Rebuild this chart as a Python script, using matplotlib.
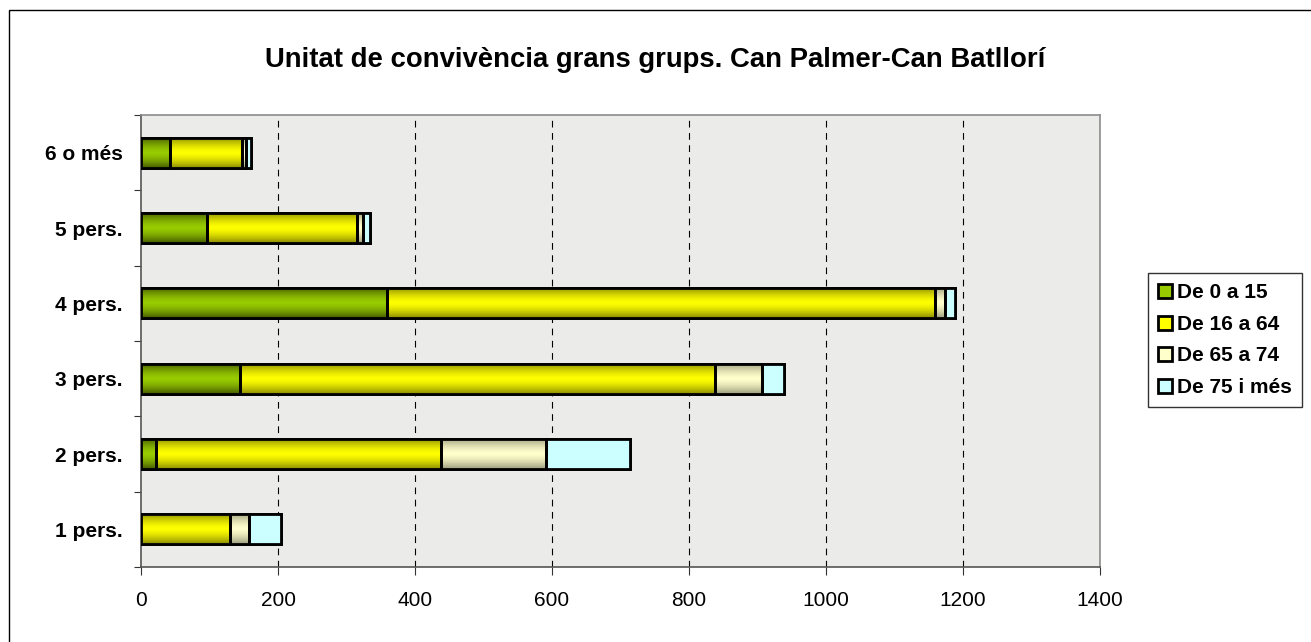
import numpy as np
import matplotlib
matplotlib.use("Agg")
import matplotlib.pyplot as plt
from matplotlib.patches import Rectangle
from matplotlib.colors import to_rgb

categories = ["1 pers.", "2 pers.", "3 pers.", "4 pers.", "5 pers.", "6 o més"]
series_names = ["De 0 a 15", "De 16 a 64", "De 65 a 74", "De 75 i més"]
age_0_15 = [0, 22, 145, 359, 97, 43]
age_16_64 = [130, 416, 693, 800, 218, 105]
age_65_74 = [27, 153, 68, 15, 9, 6]
age_75_plus = [48, 123, 33, 14, 10, 6]
xticks = [0, 200, 400, 600, 800, 1000, 1200, 1400]
title = "Unitat de convivència grans grups. Can Palmer-Can Batllorí"

colors = ["#99cc00", "#ffff00", "#ffffcc", "#ccffff"]
edge_dark = [0.45, 0.55, 0.62, 1.0]

W, H = 1311, 642
fig = plt.figure(figsize=(W / 100, H / 100), dpi=100)
fig.patch.set_facecolor("white")
plt.rcParams["font.family"] = ["Liberation Sans", "DejaVu Sans"]

# outer chart border (clipped at right/bottom)
fig.patches.append(Rectangle((9 / W, 1 - 10 / H), 1.0, -1.0, transform=fig.transFigure,
                             fill=False, edgecolor="black", linewidth=1.0))

left, right, top, bottom = 141, 1100, 115, 567
ax = fig.add_axes([left / W, 1 - bottom / H, (right - left) / W, (bottom - top) / H])
ax.set_facecolor("#ebebea")

n = len(categories)
y = np.arange(n)
series = [age_0_15, age_16_64, age_65_74, age_75_plus]
lefts = np.zeros(n)
bar_h = 0.4
handles = []
for vals, c, dk, name in zip(series, colors, edge_dark, series_names):
    vals = np.array(vals, dtype=float)
    bars = ax.barh(y, vals, left=lefts, height=bar_h, color=c, edgecolor="black",
                   linewidth=2.0, zorder=3, label=name)
    base = np.array(to_rgb(c))
    t = np.linspace(0, 1, 64)
    shade = 1 - (1 - dk) * (np.abs(t - 0.5) * 2) ** 1.5
    grad = (base[None, :] * shade[:, None])[:, None, :]
    for rect, v in zip(bars.patches, vals):
        if v <= 0:
            continue
        x0, y0 = rect.get_x(), rect.get_y()
        im = ax.imshow(grad, extent=(x0, x0 + rect.get_width(), y0, y0 + rect.get_height()),
                       aspect="auto", zorder=3.5, interpolation="bilinear", origin="lower")
        im.set_clip_path(rect)
        ax.add_patch(Rectangle((x0, y0), rect.get_width(), rect.get_height(), fill=False,
                               edgecolor="black", linewidth=2.0, zorder=4))
    handles.append(bars)
    lefts = lefts + vals

ax.set_xlim(0, 1400)
ax.set_ylim(-0.5, n - 0.5)
ax.set_xticks(xticks)
ax.set_xticklabels([str(v) for v in xticks], fontsize=15)
ax.set_yticks(y)
ax.set_yticklabels(categories, fontsize=15, fontweight="bold")
ax.set_yticks(np.arange(-0.5, n, 1.0), minor=True)
ax.tick_params(axis="y", which="major", length=0, pad=13)
ax.tick_params(axis="y", which="minor", length=5, width=0.8, color="#333333")
ax.tick_params(axis="x", which="major", length=6, width=0.8, color="#333333", pad=11)
for xv in xticks[1:-1]:
    ax.axvline(xv, color="black", linestyle=(0, (6, 5)), linewidth=0.8, zorder=1)
for s in ["top", "right"]:
    ax.spines[s].set_color("#8c8c8c")
    ax.spines[s].set_linewidth(1.2)
for s in ["left", "bottom"]:
    ax.spines[s].set_color("#555555")
    ax.spines[s].set_linewidth(1.2)

fig.text((268 + 1042) / 2 / W, 1 - 60 / H, title, ha="center", va="center",
         fontsize=19.8, fontweight="bold")

leg = fig.legend(handles=handles, labels=series_names, loc="upper left",
                 bbox_to_anchor=(1148 / W, 1 - 273 / H), frameon=True, fancybox=False,
                 prop={"weight": "bold", "size": 15}, handlelength=0.65, handleheight=0.65,
                 handletextpad=0.25, labelspacing=0.6, borderpad=0.5, borderaxespad=0)
leg.get_frame().set_edgecolor("black")
leg.get_frame().set_linewidth(1.0)

fig.savefig("out.png", dpi=100)
